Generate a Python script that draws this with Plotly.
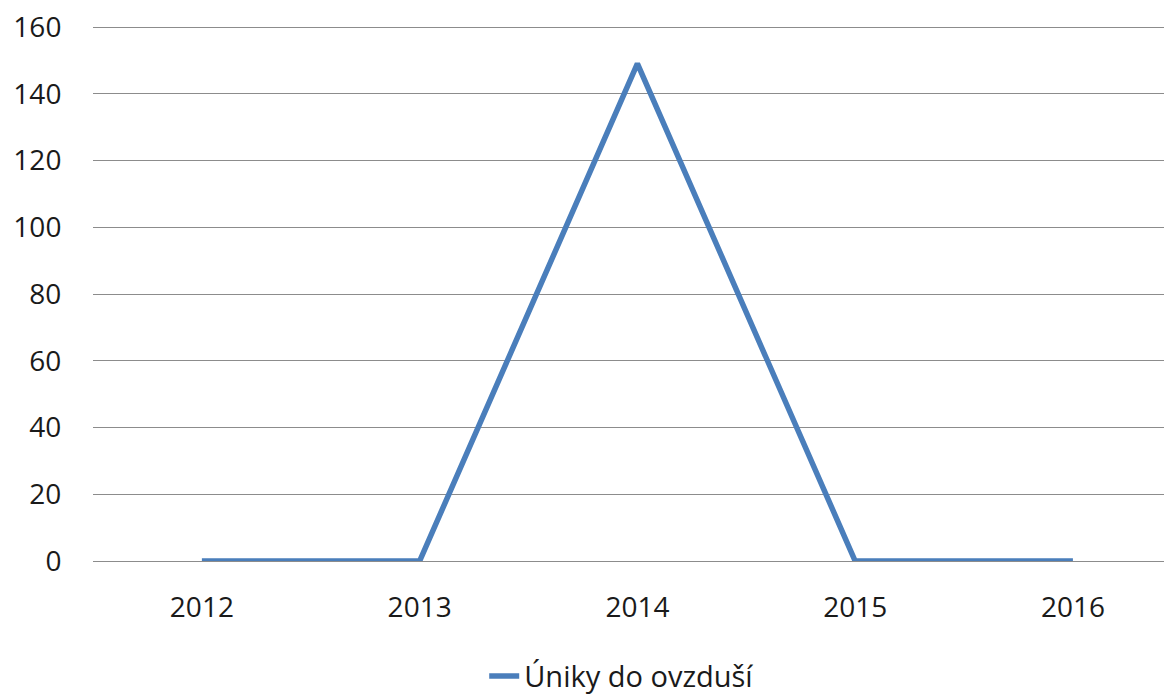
import plotly.graph_objects as go

years = ["2012", "2013", "2014", "2015", "2016"]
values = [0, 0, 149, 0, 0]
series_name = "Úniky do ovzduší"

fig = go.Figure()
fig.add_trace(go.Scatter(
    x=list(range(len(years))), y=values, mode="lines", name=series_name,
    line=dict(color="#4a7ebb", width=5.5),
))

font = dict(family="Open Sans, Noto Sans, sans-serif", size=28, color="#1a1a1a")
fig.update_layout(
    width=1164, height=687,
    margin=dict(l=85, r=0, t=17, b=134, autoexpand=False),
    paper_bgcolor="white", plot_bgcolor="white",
    font=font,
    showlegend=True,
    legend=dict(orientation="h", x=0.49, xanchor="center", y=-0.215, yanchor="middle",
                font=dict(family=font["family"], size=29, color="#1a1a1a")),
    xaxis=dict(
        tickmode="array", tickvals=list(range(len(years))), ticktext=years,
        range=[-0.5, 4.455], showgrid=False, zeroline=False, showline=False,
        ticks="outside", ticklen=21, tickcolor="rgba(0,0,0,0)",
    ),
    yaxis=dict(
        range=[0, 160.6], tickvals=[0, 20, 40, 60, 80, 100, 120, 140, 160],
        showgrid=True, gridcolor="#8c8c8c", gridwidth=1.3,
        zeroline=True, zerolinecolor="#8c8c8c", zerolinewidth=1.3,
        showline=False, ticks="outside", ticklen=25, tickcolor="rgba(0,0,0,0)",
        ticklabeloverflow="allow",
    ),
)
fig.write_html("out.html")
